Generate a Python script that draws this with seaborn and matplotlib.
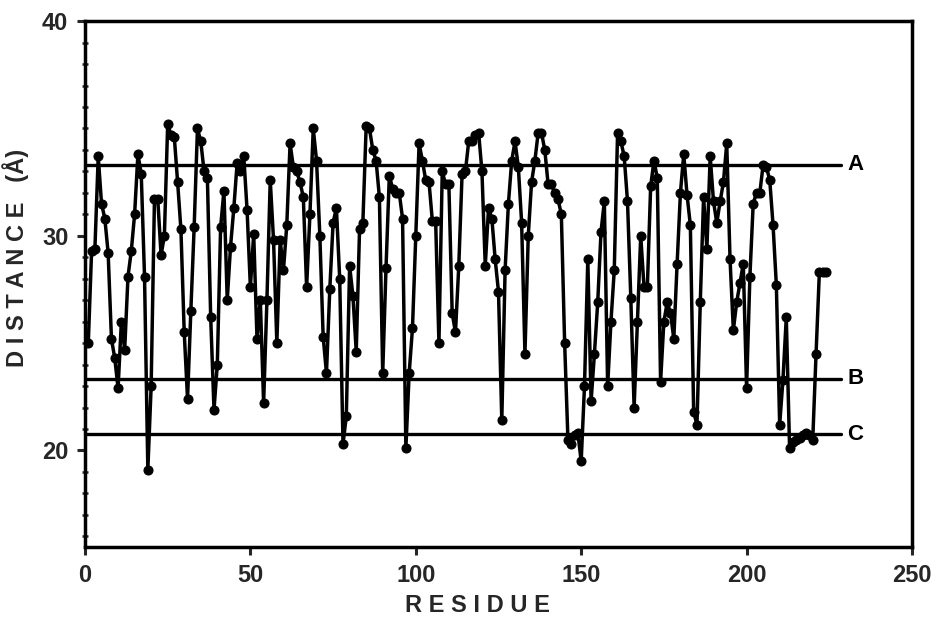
import matplotlib
matplotlib.use("Agg")
import matplotlib.pyplot as plt
import seaborn as sns
import numpy as np
import pandas as pd
from matplotlib.ticker import MultipleLocator

# ---- data ----
distance = [
    25.0, 29.3, 29.4, 33.7, 31.5, 30.8, 29.2, 25.2, 24.3, 22.9,
    26.0, 24.7, 28.1, 29.3, 31.0, 33.8, 32.9, 28.1, 19.1, 23.0,
    31.7, 31.7, 29.1, 30.0, 35.2, 34.7, 34.6, 32.5, 30.3, 25.5,
    22.4, 26.5, 30.4, 35.0, 34.4, 33.0, 32.7, 26.2, 21.9, 24.0,
    30.4, 32.1, 27.0, 29.5, 31.3, 33.4, 33.0, 33.7, 31.2, 27.6,
    30.1, 25.2, 27.0, 22.2, 27.0, 32.6, 29.8, 25.0, 29.8, 28.4,
    30.5, 34.3, 33.2, 33.0, 32.5, 31.8, 27.6, 31.0, 35.0, 33.5,
    30.0, 25.3, 23.6, 27.5, 30.6, 31.3, 28.0, 20.3, 21.6, 28.6,
    27.2, 24.6, 30.3, 30.6, 35.1, 35.0, 34.0, 33.5, 31.8, 23.6,
    28.5, 32.8, 32.2, 32.0, 32.0, 30.8, 20.1, 23.6, 25.7, 30.0,
    34.3, 33.5, 32.6, 32.5, 30.7, 30.7, 25.0, 33.0, 32.4, 32.4,
    26.4, 25.5, 28.6, 32.9, 33.0, 34.4, 34.4, 34.7, 34.8, 33.0,
    28.6, 31.3, 30.8, 28.9, 27.4, 21.4, 28.4, 31.5, 33.5, 34.4,
    33.2, 30.6, 24.5, 30.0, 32.5, 33.5, 34.8, 34.8, 34.0, 32.4,
    32.4, 32.0, 31.7, 31.0, 25.0, 20.5, 20.3, 20.7, 20.8, 19.5,
    23.0, 28.9, 22.3, 24.5, 26.9, 30.2, 31.6, 23.0, 26.0, 28.4,
    34.8, 34.4, 33.7, 31.6, 27.1, 22.0, 26.0, 30.0, 27.6, 27.6,
    32.3, 33.5, 32.7, 23.2, 26.0, 26.9, 26.4, 25.2, 28.7, 32.0,
    33.8, 31.9, 30.5, 21.8, 21.2, 26.9, 31.8, 29.4, 33.7, 31.6,
    30.6, 31.6, 32.5, 34.3, 28.9, 25.6, 26.9, 27.8, 28.7, 22.9,
    28.1, 31.5, 32.0, 32.0, 33.3, 33.2, 32.6, 30.5, 27.7, 21.2,
    23.3, 26.2, 20.1, 20.4, 20.5, 20.6, 20.7, 20.8, 20.7, 20.5,
    24.5, 28.3, 28.3, 28.3,
]
residue = list(range(1, len(distance) + 1))

ref_labels = ["A", "B", "C"]
ref_levels = [33.3, 23.35, 20.75]

x_ticks = [0, 50, 100, 150, 200, 250]
y_ticks = [20, 30, 40]

df = pd.DataFrame({"RESIDUE": residue, "DISTANCE": distance})

sns.set_style("ticks")
plt.rcParams["font.family"] = ["Liberation Sans", "DejaVu Sans"]

fig = plt.figure(figsize=(9.37, 6.21), dpi=100)
ax = fig.add_axes([0.0907, 0.119, 0.8826, 0.847])

# reference lines
for lab, lev in zip(ref_labels, ref_levels):
    ax.plot([0, 228.5], [lev, lev], color="black", lw=2.4, zorder=1)
    ax.text(232.8, lev, lab, ha="center", va="center", fontsize=16,
            fontweight="bold", color="black")

sns.lineplot(data=df, x="RESIDUE", y="DISTANCE", ax=ax, color="black",
             linewidth=2.5, marker="o", markersize=6.5,
             markeredgecolor="black", markerfacecolor="black",
             estimator=None, zorder=3)

ax.set_xlim(0, 250)
ax.set_ylim(15.5, 40)
ax.set_xticks(x_ticks)
ax.set_yticks(y_ticks)
ax.yaxis.set_minor_locator(MultipleLocator(1))
ax.set_xticklabels([str(t) for t in x_ticks], fontsize=17, fontweight="bold")
ax.set_yticklabels([str(t) for t in y_ticks], fontsize=17, fontweight="bold")
ax.tick_params(axis="both", which="major", direction="out", length=6, width=2.2, pad=6)
ax.tick_params(axis="y", which="minor", direction="inout", length=5, width=1.8)

for s in ax.spines.values():
    s.set_linewidth(2.5)
    s.set_color("black")

ax.set_xlabel("R E S I D U E", fontsize=17, fontweight="bold")
ax.set_ylabel("D I S T A N C E   (Å)", fontsize=17, fontweight="bold")
ax.xaxis.set_label_coords(0.475, -0.09)
ax.yaxis.set_label_coords(-0.068, 0.55)

fig.savefig("out.png", dpi=100)
